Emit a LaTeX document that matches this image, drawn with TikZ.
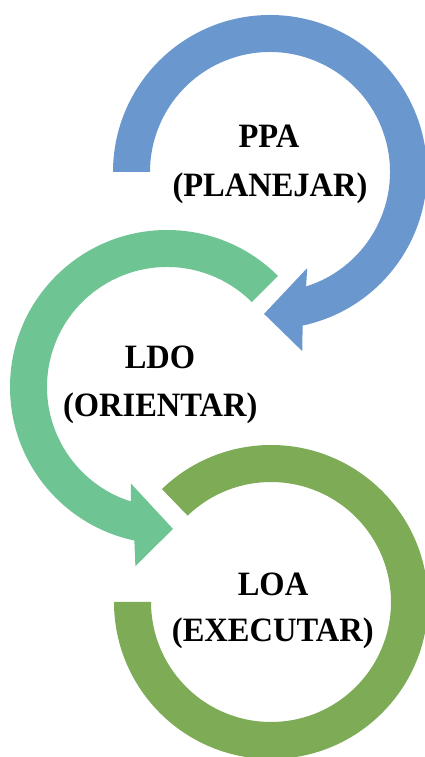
\documentclass[tikz,border=0pt]{standalone}
\usepackage{fontspec}
\setmainfont{Liberation Serif}
\usetikzlibrary{calc}
\definecolor{ppablue}{RGB}{106,152,206}
\definecolor{ldogreen}{RGB}{111,196,147}
\definecolor{loagreen}{RGB}{126,171,86}
\tikzset{
  lbl/.style={anchor=base, inner sep=0pt, yscale=1.05, transform shape, font=\fontsize{32.5}{40}\selectfont\bfseries},
}
\begin{document}
\begin{tikzpicture}[x=1pt,y=1pt]
\useasboundingbox (0,0) rectangle (425,757);
\coordinate (cB) at (270,585);
\coordinate (cG) at (167,370);
\coordinate (cL) at (271,155);
% PPA arrow (blue, clockwise)
\fill[ppablue] ($(cB)+(180:157)$) arc[start angle=180, end angle=-78, radius=157]
  -- ($(cB)+(-79.8:182)$) -- ($(cB)+(-92.4:142)$) -- ($(cB)+(-68.8:103)$)
  -- ($(cB)+(-72.5:120)$) arc[start angle=-72.5, end angle=180, radius=120] -- cycle;
% LDO arrow (light green, counterclockwise)
\fill[ldogreen] ($(cG)+(45:157)$) arc[start angle=45, end angle=258, radius=157]
  -- ($(cG)+(260:182)$) -- ($(cG)+(272.4:142)$) -- ($(cG)+(249.5:103)$)
  -- ($(cG)+(252.5:120)$) arc[start angle=252.5, end angle=45, radius=120] -- cycle;
% LOA ring (green)
\fill[loagreen] ($(cL)+(180:157)$) arc[start angle=180, end angle=494, radius=157]
  -- ($(cL)+(494:120)$) arc[start angle=494, end angle=180, radius=120] -- cycle;
% labels
\node[lbl] (ppa) at (269,609.3) {PPA};
\node[lbl] (ppasub) at (270,560) {(PLANEJAR)};
\node[lbl] (ldo) at (160,388.7) {LDO};
\node[lbl] (ldosub) at (160.3,340.3) {(ORIENTAR)};
\node[lbl] (loa) at (273,161.3) {LOA};
\node[lbl] (loasub) at (272.8,115.3) {(EXECUTAR)};
\end{tikzpicture}
\end{document}
